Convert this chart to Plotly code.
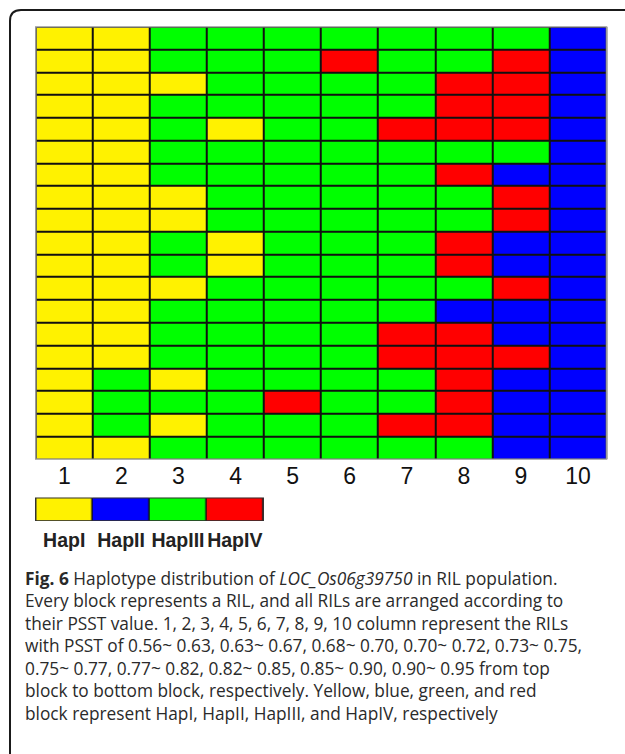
import plotly.graph_objects as go

# ---- data (rows top -> bottom, 19 RILs per column) ----
column_labels = ["1", "2", "3", "4", "5", "6", "7", "8", "9", "10"]
haplotypes = ["HapI", "HapII", "HapIII", "HapIV"]
hap_colors = ["#FFF200", "#0000FF", "#00FF00", "#FF0000"]

col_1 = ["HapI", "HapI", "HapI", "HapI", "HapI", "HapI", "HapI", "HapI", "HapI", "HapI",
         "HapI", "HapI", "HapI", "HapI", "HapI", "HapI", "HapI", "HapI", "HapI"]
col_2 = ["HapI", "HapI", "HapI", "HapI", "HapI", "HapI", "HapI", "HapI", "HapI", "HapI",
         "HapI", "HapI", "HapI", "HapI", "HapI", "HapIII", "HapIII", "HapIII", "HapI"]
col_3 = ["HapIII", "HapIII", "HapI", "HapIII", "HapIII", "HapIII", "HapIII", "HapI", "HapI", "HapIII",
         "HapIII", "HapI", "HapIII", "HapIII", "HapIII", "HapI", "HapIII", "HapI", "HapIII"]
col_4 = ["HapIII", "HapIII", "HapIII", "HapIII", "HapI", "HapIII", "HapIII", "HapIII", "HapIII", "HapI",
         "HapI", "HapIII", "HapIII", "HapIII", "HapIII", "HapIII", "HapIII", "HapIII", "HapIII"]
col_5 = ["HapIII", "HapIII", "HapIII", "HapIII", "HapIII", "HapIII", "HapIII", "HapIII", "HapIII", "HapIII",
         "HapIII", "HapIII", "HapIII", "HapIII", "HapIII", "HapIII", "HapIV", "HapIII", "HapIII"]
col_6 = ["HapIII", "HapIV", "HapIII", "HapIII", "HapIII", "HapIII", "HapIII", "HapIII", "HapIII", "HapIII",
         "HapIII", "HapIII", "HapIII", "HapIII", "HapIII", "HapIII", "HapIII", "HapIII", "HapIII"]
col_7 = ["HapIII", "HapIII", "HapIII", "HapIII", "HapIV", "HapIII", "HapIII", "HapIII", "HapIII", "HapIII",
         "HapIII", "HapIII", "HapIII", "HapIV", "HapIV", "HapIII", "HapIII", "HapIV", "HapIII"]
col_8 = ["HapIII", "HapIII", "HapIV", "HapIV", "HapIV", "HapIII", "HapIV", "HapIII", "HapIII", "HapIV",
         "HapIV", "HapIII", "HapII", "HapIV", "HapIV", "HapIV", "HapIV", "HapIV", "HapIII"]
col_9 = ["HapIII", "HapIV", "HapIV", "HapIV", "HapIV", "HapIII", "HapII", "HapIV", "HapIV", "HapII",
         "HapII", "HapIV", "HapII", "HapII", "HapIV", "HapII", "HapII", "HapII", "HapII"]
col_10 = ["HapII", "HapII", "HapII", "HapII", "HapII", "HapII", "HapII", "HapII", "HapII", "HapII",
          "HapII", "HapII", "HapII", "HapII", "HapII", "HapII", "HapII", "HapII", "HapII"]

columns = [col_1, col_2, col_3, col_4, col_5, col_6, col_7, col_8, col_9, col_10]

caption_lines = [
    "<b>Fig. 6</b> Haplotype distribution of <i>LOC_Os06g39750</i> in RIL population.",
    "Every block represents a RIL, and all RILs are arranged according to",
    "their PSST value. 1, 2, 3, 4, 5, 6, 7, 8, 9, 10 column represent the RILs",
    "with PSST of 0.56~ 0.63, 0.63~ 0.67, 0.68~ 0.70, 0.70~ 0.72, 0.73~ 0.75,",
    "0.75~ 0.77, 0.77~ 0.82, 0.82~ 0.85, 0.85~ 0.90, 0.90~ 0.95 from top",
    "block to bottom block, respectively. Yellow, blue, green, and red",
    "block represent HapI, HapII, HapIII, and HapIV, respectively",
]

# ---- build ----
W, H = 625, 754
n_rows = len(col_1)
code = {h: i for i, h in enumerate(haplotypes)}
z = [[code[columns[c][r]] for c in range(len(columns))] for r in range(n_rows)]
rows = list(range(1, n_rows + 1))

n = len(hap_colors)
colorscale = []
for i, col in enumerate(hap_colors):
    colorscale.append([i / n, col])
    colorscale.append([(i + 1) / n, col])


def px_x(x):
    return x / W


def px_y(y):
    return 1 - y / H


fig = go.Figure()

fig.add_trace(go.Heatmap(
    z=z, x=column_labels, y=rows,
    colorscale=colorscale, zmin=0, zmax=n - 1, showscale=False,
    xgap=2, ygap=2, hoverinfo="skip",
    xaxis="x", yaxis="y",
))

fig.add_trace(go.Heatmap(
    z=[[code[h] for h in haplotypes]], x=haplotypes, y=[0],
    colorscale=colorscale, zmin=0, zmax=n - 1, showscale=False,
    xgap=1.5, ygap=0, hoverinfo="skip",
    xaxis="x2", yaxis="y2",
))

fig.update_layout(
    width=W, height=H,
    margin=dict(l=0, r=0, t=0, b=0),
    paper_bgcolor="white",
    plot_bgcolor="#111111",
    showlegend=False,
    xaxis=dict(
        domain=[px_x(35), px_x(607.3)], type="category",
        showgrid=False, zeroline=False, ticks="", ticklabelstandoff=1,
        tickfont=dict(family="Liberation Sans, Arial", size=23, color="#111111"),
        anchor="y",
    ),
    yaxis=dict(
        domain=[px_y(459.3), px_y(26.7)], range=[n_rows + 0.5, 0.5],
        showgrid=False, zeroline=False, showticklabels=False, ticks="",
        anchor="x",
    ),
    xaxis2=dict(
        domain=[px_x(35), px_x(264)], type="category",
        showgrid=False, zeroline=False, ticks="", ticklabelstandoff=5,
        tickfont=dict(family="Liberation Sans, Arial", size=19.5, color="#222222", weight="bold"),
        anchor="y2",
    ),
    yaxis2=dict(
        domain=[px_y(521), px_y(497.7)], range=[-0.5, 0.5],
        showgrid=False, zeroline=False, showticklabels=False, ticks="",
        anchor="x2",
    ),
)

# outer border of grid
fig.add_shape(type="rect", xref="x", yref="y", x0=-0.5, x1=9.5, y0=0.5, y1=n_rows + 0.5,
              line=dict(color="#9a9a9a", width=1.5), layer="above")
# outer border of legend bar
fig.add_shape(type="rect", xref="x2", yref="y2", x0=-0.5, x1=3.5, y0=-0.5, y1=0.5,
              line=dict(color="#333333", width=1.5), layer="above")

# card frame (rounded top-left corner)
path = (f"M {px_x(10)},{px_y(760)} L {px_x(10)},{px_y(21)} "
        f"Q {px_x(10)},{px_y(10)} {px_x(21)},{px_y(10)} L {px_x(630)},{px_y(10)}")
fig.add_shape(type="path", xref="paper", yref="paper", path=path,
              line=dict(color="#1a1a1a", width=2))

fig.add_annotation(
    xref="paper", yref="paper", x=px_x(23), y=px_y(646),
    xanchor="left", yanchor="middle", align="left", showarrow=False,
    text="<br>".join(caption_lines),
    font=dict(family="Open Sans", size=17.3, color="#2a2a2a"),
)

fig.write_html("out.html")
